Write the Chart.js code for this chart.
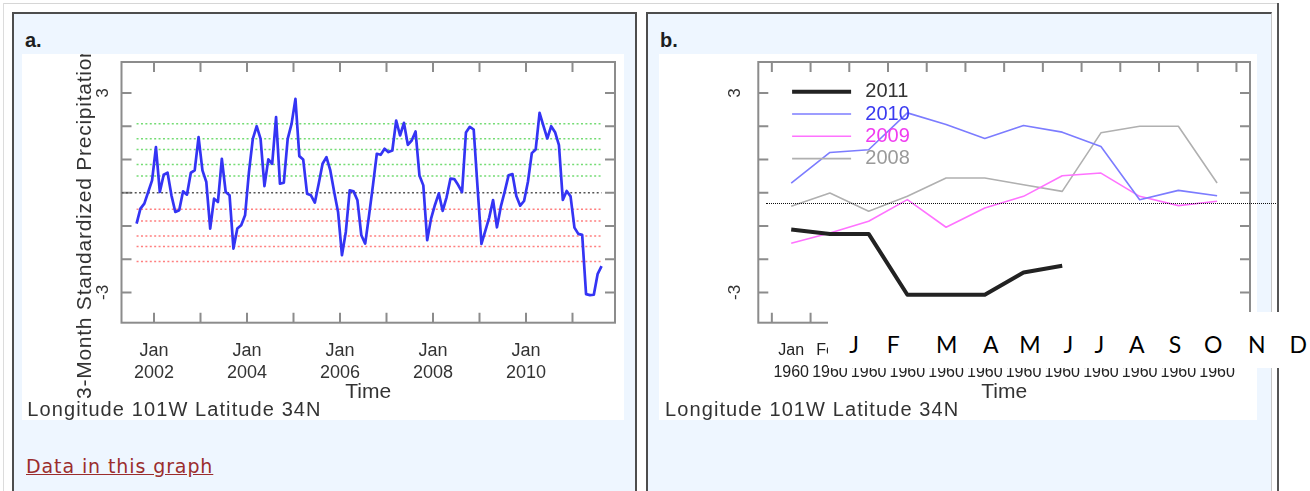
<!DOCTYPE html>
<html>
<head>
<meta charset="utf-8">
<title>3-Month Standardized Precipitation Index</title>
<script src="https://cdn.jsdelivr.net/npm/chart.js"></script>
<style>
html,body{margin:0;padding:0;background:#fff;}
body{width:1310px;height:491px;position:relative;overflow:hidden;font-family:"Liberation Sans",Arial,sans-serif;}
.line{position:absolute;}
.panel{position:absolute;box-sizing:border-box;background:#eef6ff;border:2px solid #4d4d4d;border-bottom:none;}
.white{position:absolute;background:#fff;overflow:hidden;}
.white canvas{position:absolute;left:0;top:0;}
.plab{position:absolute;font:bold 20px "Liberation Sans",Arial,sans-serif;line-height:20px;color:#1e1e1e;}
.loc{position:absolute;font-size:20px;line-height:20px;letter-spacing:1.1px;color:#333;white-space:nowrap;}
.ytitle{position:absolute;transform-origin:0 0;transform:rotate(-90deg);font-size:21px;line-height:24px;letter-spacing:0.75px;color:#333;white-space:nowrap;}
.link{position:absolute;left:26px;top:457px;font-family:"DejaVu Sans",Verdana,sans-serif;font-size:19px;line-height:19px;letter-spacing:0.9px;color:#9b2d2d;text-decoration:underline;white-space:nowrap;}
#overlay{position:absolute;left:828px;top:312px;width:482px;height:56px;background:#fff;z-index:5;}
.mlet{position:absolute;top:21px;width:40px;text-align:center;font-family:Lato,"Open Sans",sans-serif;font-size:23px;line-height:23px;color:#000;}
#refline{position:absolute;left:766px;width:510px;height:0;border-top:1px dotted #111;z-index:6;}
</style>
</head>
<body>
<!-- page frame -->
<div class="line" style="left:3px;top:3px;width:1274px;height:1px;background:#d6d6d6;"></div>
<div class="line" style="left:3px;top:3px;width:1px;height:488px;background:#dcdcdc;"></div>
<div class="line" style="left:1277px;top:3px;width:2px;height:488px;background:#555;"></div>

<!-- panel a -->
<div class="panel" style="left:12px;top:12px;width:625px;height:490px;"></div>
<div class="plab" style="left:25px;top:30px;">a.</div>
<div class="white" id="wa" style="left:22px;top:54px;width:602px;height:366px;">
  <canvas id="ca" width="602" height="366"></canvas>
  <div class="ytitle" style="left:50.4px;top:345px;">3-Month Standardized Precipitation</div>
  <div class="loc" style="left:5.3px;top:345px;">Longitude 101W Latitude 34N</div>
</div>
<a class="link" href="#">Data in this graph</a>

<!-- panel b -->
<div class="panel" style="left:646px;top:12px;width:626px;height:490px;border-right:1px solid #c8c8c8;"></div>
<div class="plab" style="left:660px;top:30px;">b.</div>
<div class="white" id="wb" style="left:659px;top:54px;width:598px;height:366px;">
  <canvas id="cb" width="598" height="366"></canvas>
  <div class="loc" style="left:6px;top:345px;">Longitude 101W Latitude 34N</div>
</div>
<div id="overlay"></div>
<div id="refline"></div>

<script>
// ---------------- data ----------------
const startYear = 2001;
const startMonth = 8; // first value is Aug 2001
const spiMonthly = [
  -0.93, -0.48, -0.33, 0.02, 0.37, 1.37, 0.02, 0.54, 0.6, -0.08, -0.58, -0.53,
  0.04, -0.06, 0.6, 0.67, 1.67, 0.67, 0.32, -1.08, -0.18, -0.28, 1.02, 0.02,
  -0.08, -1.68, -1.08, -0.98, -0.68, 0.62, 1.62, 2.0, 1.62, 0.2, 1.0, 0.87,
  2.27, 0.27, 0.3, 1.62, 2.07, 2.82, 1.1, 1.0, -0.03, -0.08, -0.3, 0.27,
  0.87, 1.07, 0.67, 0.02, -0.58, -1.88, -1.18, 0.07, 0.04, -0.23, -1.28, -1.53,
  -0.68, 0.22, 1.17, 1.14, 1.32, 1.22, 1.27, 2.17, 1.72, 2.1, 1.44, 1.57,
  1.84, 0.52, 0.22, -1.43, -0.78,
  -0.37, -0.02, -0.55, -0.14, 0.42, 0.41, 0.23, 0.02, 1.81, 1.98, 1.9, 0.15,
  -1.54, -1.15, -0.75, -0.22, -1.04, -0.42, 0.03, 0.52, 0.56, -0.1, -0.39, -0.25,
  0.33, 1.19, 1.3, 2.4, 2.01, 1.63, 2.0, 1.82, 1.43, -0.22, 0.05, -0.11,
  -1.05, -1.24, -1.27, -3.05, -3.08, -3.07, -2.44, -2.21
];
const yearTicks = [2002, 2003, 2004, 2005, 2006, 2007, 2008, 2009, 2010, 2011];
const yearLabels = [2002, 2004, 2006, 2008, 2010];
const wetLevels = [0.5, 0.85, 1.3, 1.62, 2.07];
const dryLevels = [-0.5, -0.85, -1.3, -1.62, -2.07];
const valueTicks = [-3, -2, -1, 0, 1, 2, 3];
const valueLabels = [3, -3];

const monthNames = ['Jan','Feb','Mar','Apr','May','Jun','Jul','Aug','Sep','Oct','Nov','Dec'];
const climYear = '1960';
const seriesYears = ['2011', '2010', '2009', '2008'];
const spi2011 = [-1.11, -1.24, -1.24, -3.07, -3.07, -3.07, -2.40, -2.20];
const spi2010 = [0.29, 1.21, 1.29, 2.40, 2.05, 1.63, 2.02, 1.82, 1.39, -0.21, 0.07, -0.09];
const spi2009 = [-1.52, -1.21, -0.86, -0.21, -1.04, -0.46, -0.11, 0.51, 0.59, -0.11, -0.39, -0.26];
const spi2008 = [-0.41, -0.01, -0.56, -0.11, 0.44, 0.44, 0.24, 0.04, 1.80, 2.00, 2.00, 0.29];
const refLevel = -0.32;
const overlayLetters = ['J','F','M','A','M','J','J','A','S','O','N','D'];

// ---------------- layout (not data) ----------------
const overlayX = [26, 65.3, 118.7, 162.7, 202, 240.3, 271.3, 308.7, 347, 385.3, 428.7, 470.3];
const yMin = -3.91, yMax = 3.93;
const xMinA = 2001.301, xMaxA = 2011.914;
const xMinB = -0.85, xMaxB = 11.85;
const FONT = '"Liberation Sans", Arial, sans-serif';

// ---------------- plugins ----------------
const framePlugin = {
  id: 'frame',
  beforeDatasetsDraw(chart, args, o) {
    const {ctx, chartArea: ca, scales} = chart;
    const xs = scales.x, ys = scales.y;
    ctx.save();
    ctx.strokeStyle = o.color;
    ctx.lineWidth = o.lineWidth;
    ctx.strokeRect(ca.left, ca.top, ca.right - ca.left, ca.bottom - ca.top);
    ctx.beginPath();
    o.xTicks.forEach(v => {
      const p = xs.getPixelForValue(v);
      ctx.moveTo(p, ca.top); ctx.lineTo(p, ca.top + o.len);
      ctx.moveTo(p, ca.bottom); ctx.lineTo(p, ca.bottom - o.len);
    });
    o.yTicks.forEach(v => {
      const p = ys.getPixelForValue(v);
      ctx.moveTo(ca.left, p); ctx.lineTo(ca.left + o.len, p);
      ctx.moveTo(ca.right, p); ctx.lineTo(ca.right - o.len, p);
    });
    ctx.stroke();
    ctx.fillStyle = o.labelColor;
    ctx.font = o.labelFont;
    ctx.textAlign = 'center';
    ctx.textBaseline = 'middle';
    o.yLabels.forEach(v => {
      const p = ys.getPixelForValue(v);
      ctx.save();
      ctx.translate(ca.left - o.labelOffset, p);
      ctx.rotate(-Math.PI / 2);
      ctx.fillText(String(v), 0, 0);
      ctx.restore();
    });
    ctx.restore();
  }
};

const lineLegend = {
  id: 'lineLegend',
  afterDatasetsDraw(chart, args, o) {
    const {ctx, chartArea: ca} = chart;
    ctx.save();
    ctx.font = o.font;
    ctx.textBaseline = 'middle';
    ctx.textAlign = 'left';
    chart.data.datasets.forEach((ds, i) => {
      const y = ca.top + o.top + i * o.gap;
      ctx.strokeStyle = ds.borderColor;
      ctx.lineWidth = ds.borderWidth;
      ctx.beginPath();
      ctx.moveTo(ca.left + o.x0, y);
      ctx.lineTo(ca.left + o.x0 + o.len, y);
      ctx.stroke();
      ctx.fillStyle = o.textColors[i];
      ctx.fillText(ds.label, ca.left + o.textX, y);
    });
    ctx.restore();
  }
};

// ---------------- panel a ----------------
const tAt = i => startYear + (startMonth - 1 + i + 0.5) / 12;
const tFirst = tAt(0);
const tLast = tAt(spiMonthly.length - 1);
const levelDataset = (v, color, x0) => ({
  label: 'level ' + v,
  data: [{x: x0, y: v}, {x: tLast, y: v}],
  borderColor: color, borderWidth: 1.5, borderDash: [2, 2.4],
  pointRadius: 0, fill: false
});

const chartA = new Chart(document.getElementById('ca'), {
  type: 'line',
  data: {
    datasets: [
      {
        label: '3-Month SPI',
        data: spiMonthly.map((v, i) => ({x: tAt(i), y: v})),
        borderColor: '#3434f4', borderWidth: 2.7, pointRadius: 0,
        borderJoinStyle: 'round', tension: 0, fill: false
      },
      ...wetLevels.map(v => levelDataset(v, '#74dc74', tFirst)),
      ...dryLevels.map(v => levelDataset(v, '#ff7f7f', tFirst)),
      levelDataset(0, '#555555', xMinA)
    ]
  },
  options: {
    responsive: false, animation: false, devicePixelRatio: 1,
    layout: {padding: {left: 0, top: 8, right: 9, bottom: 0}},
    plugins: {
      legend: {display: false}, tooltip: {enabled: false},
      frame: {color: '#8c8c8c', lineWidth: 2, len: 10, xTicks: yearTicks, yTicks: valueTicks,
              yLabels: valueLabels, labelColor: '#333', labelFont: '17px ' + FONT, labelOffset: 18.5}
    },
    scales: {
      x: {
        type: 'linear', min: xMinA, max: xMaxA,
        afterBuildTicks: s => { s.ticks = yearTicks.map(v => ({value: v})); },
        afterFit: s => { s.height = 97.3; },
        grid: {display: false, drawTicks: false}, border: {display: false},
        ticks: {
          autoSkip: false, maxRotation: 0, minRotation: 0, padding: 17,
          color: '#333', font: {family: FONT, size: 18, lineHeight: '22px'},
          callback: v => yearLabels.includes(v) ? ['Jan', String(v)] : ''
        },
        title: {display: true, text: 'Time', color: '#333',
                font: {family: FONT, size: 21, lineHeight: '25px'}, padding: {top: 0, bottom: 15}}
      },
      y: {
        min: yMin, max: yMax,
        afterFit: s => { s.width = 99.5; },
        grid: {display: false, drawTicks: false}, border: {display: false},
        ticks: {display: false}
      }
    }
  },
  plugins: [framePlugin]
});

// ---------------- panel b ----------------
const seriesValues = [spi2011, spi2010, spi2009, spi2008];
const seriesColors = ['#222222', '#7c7cff', '#ff72ff', '#b0b0b0'];
const seriesWidths = [4, 1.6, 1.6, 1.6];
const monthBounds = monthNames.map((m, i) => i - 0.5).concat([monthNames.length - 0.5]);

const chartB = new Chart(document.getElementById('cb'), {
  type: 'line',
  data: {
    datasets: seriesYears.map((yr, k) => ({
      label: yr,
      data: seriesValues[k].map((v, i) => ({x: i, y: v})),
      borderColor: seriesColors[k], borderWidth: seriesWidths[k],
      pointRadius: 0, tension: 0, fill: false, borderJoinStyle: 'round'
    }))
  },
  options: {
    responsive: false, animation: false, devicePixelRatio: 1,
    layout: {padding: {left: 0, top: 8, right: 7, bottom: 0}},
    plugins: {
      legend: {display: false}, tooltip: {enabled: false},
      frame: {color: '#8c8c8c', lineWidth: 2, len: 10, xTicks: monthBounds, yTicks: valueTicks,
              yLabels: valueLabels, labelColor: '#333', labelFont: '17px ' + FONT, labelOffset: 22.5},
      lineLegend: {x0: 33.8, len: 59, top: 29.7, gap: 22.3, textX: 107, font: '20px ' + FONT,
                   textColors: ['#333333', '#3a3af0', '#f03cf0', '#9a9a9a']}
    },
    scales: {
      x: {
        type: 'linear', min: xMinB, max: xMaxB,
        afterBuildTicks: s => { s.ticks = monthNames.map((m, i) => ({value: i})); },
        afterFit: s => { s.height = 97.3; },
        grid: {display: false, drawTicks: false}, border: {display: false},
        ticks: {
          autoSkip: false, maxRotation: 0, minRotation: 0, padding: 17,
          color: '#222', font: {family: FONT, size: 16, lineHeight: '22px'},
          callback: v => [monthNames[v], climYear]
        },
        title: {display: true, text: 'Time', color: '#333',
                font: {family: FONT, size: 21, lineHeight: '25px'}, padding: {top: 0, bottom: 15}}
      },
      y: {
        min: yMin, max: yMax,
        afterFit: s => { s.width = 99.3; },
        grid: {display: false, drawTicks: false}, border: {display: false},
        ticks: {display: false}
      }
    }
  },
  plugins: [framePlugin, lineLegend]
});

// ---------------- overlays ----------------
const ov = document.getElementById('overlay');
overlayLetters.forEach((t, i) => {
  const d = document.createElement('div');
  d.className = 'mlet';
  d.style.left = (overlayX[i] - 20) + 'px';
  d.textContent = t;
  ov.appendChild(d);
});
const wb = document.getElementById('wb');
const ref = document.getElementById('refline');
ref.style.top = (wb.offsetTop + chartB.scales.y.getPixelForValue(refLevel)) + 'px';
</script>
</body>
</html>
